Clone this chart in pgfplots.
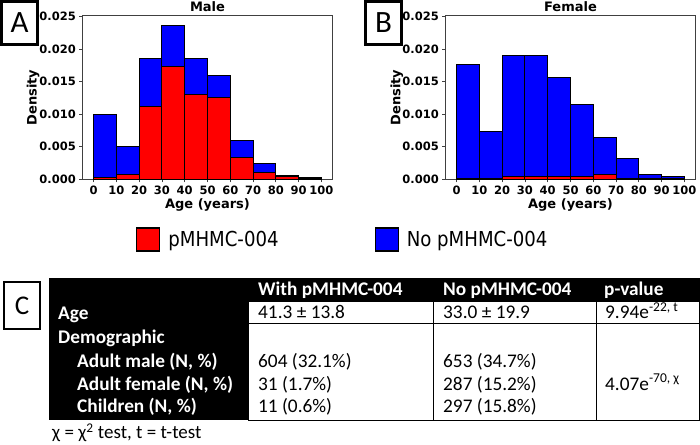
\documentclass[border=0pt]{standalone}
\usepackage{pgfplots}
\pgfplotsset{compat=1.18}
\usepackage{fontspec}
\setmainfont{DejaVu Sans}
\newfontfamily\calfont{Carlito}
\newfontfamily\legfont{DejaVu Sans}[FakeStretch=0.88]

\pgfplotstableread{
x blue red
0 0.0100 0.0002
10 0.0050 0.0007
20 0.0186 0.0112
30 0.0236 0.0173
40 0.0186 0.0130
50 0.0159 0.0125
60 0.0060 0.0033
70 0.0025 0.0011
80 0.0006 0.0004
90 0.0003 0.0001
100 0 0
}\male
\pgfplotstableread{
x blue red
0 0.0176 0.0001
10 0.0074 0.0001
20 0.0190 0.0005
30 0.0190 0.0004
40 0.0157 0.0005
50 0.0115 0.0004
60 0.0065 0.0008
70 0.0032 0.0001
80 0.0007 0.0001
90 0.0004 0.0001
100 0 0
}\female

\begin{document}
\begin{tikzpicture}[x=1pt,y=1pt]
\useasboundingbox (0,0) rectangle (700,444);
\pgfplotsset{
  hist/.style={
    scale only axis, width=250.4pt, height=163.6pt, anchor=south west,
    xmin=-5, xmax=105, ymin=0, ymax=0.02515,
    xtick={0,10,20,30,40,50,60,70,80,90,100},
    ytick={0,0.005,0.01,0.015,0.02,0.025},
    scaled y ticks=false,
    /pgf/number format/assume math mode=true,
    yticklabel={\pgfmathprintnumber[fixed,fixed zerofill,precision=3]{\tick}},
    tick align=outside, tick pos=left, major tick length=3pt,
    axis line style={black!75, line width=0.8pt},
    every tick/.style={black!75, line width=0.8pt},
    tick label style={font=\fontsize{11.5}{11.5}\selectfont\bfseries},
    label style={font=\fontsize{13}{13}\selectfont\bfseries},
    every axis title/.style={font=\fontsize{13}{13}\selectfont\bfseries, anchor=center, at={(0.5,1.053)}},
    ylabel=Density, xlabel={Age (years)},
    xlabel style={at={(axis description cs:0.5,-0.157)}, anchor=center},
    ylabel style={anchor=center},
    bluebar/.style={ybar interval, fill=blue, draw=black, line width=1pt},
    redbar/.style={ybar interval, fill=red, draw=black, line width=1pt},
  }
}
\begin{axis}[hist, at={(82.3pt,264.7pt)}, title=Male,
  ylabel style={at={(axis description cs:-0.197,0.5)}},
  legend style={at={(axis description cs:0.2145,-0.368)}, anchor=west, draw=none, fill=none,
    legend columns=2, inner sep=0pt, nodes={inner sep=0pt},
    font={\legfont\fontsize{20.6}{21}\selectfont},
    /tikz/every odd column/.append style={column sep=8pt},
    /tikz/every even column/.append style={column sep=96pt}},
  legend image code/.code={\draw[#1] (0pt,-11.5pt) rectangle (23pt,11.5pt);}]
\addplot[bluebar, forget plot] table[x=x, y=blue] {\male};
\addplot[redbar, forget plot] table[x=x, y=red] {\male};
\addlegendimage{fill=red, draw=black, line width=1.2pt}
\addlegendentry{pMHMC-004}
\addlegendimage{fill=blue, draw=black, line width=1.2pt}
\addlegendentry{No pMHMC-004}
\end{axis}
\begin{axis}[hist, at={(445.3pt,264.7pt)}, title=Female,
  ylabel style={at={(axis description cs:-0.194,0.5)}}]
\addplot[bluebar] table[x=x, y=blue] {\female};
\addplot[redbar] table[x=x, y=red] {\female};
\end{axis}

% panel letters
\draw[line width=2.7pt] (1.35,444-1.35) rectangle (37.65,444-44.65);
\node[font={\calfont\fontsize{31}{31}\selectfont}] at (19.5,444-23) {A};
\draw[line width=2.7pt] (365.35,444-1.35) rectangle (401.65,444-44.65);
\node[font={\calfont\fontsize{31}{31}\selectfont}] at (383.5,444-23) {B};
\draw[line width=2.4pt] (4.2,444-282.2) rectangle (39.8,444-328.8);
\node[font={\calfont\fontsize{27}{27}\selectfont}] at (22,444-305.5) {C};

% table
\fill[black] (49,444-278) rectangle (700,444-302);
\fill[black] (49,444-302) rectangle (248,444-420);
\draw[line width=1pt] (248,444-302) rectangle (699.5,444-420);
\draw[line width=1pt] (248,444-323.5) -- (699.5,444-323.5);
\draw[line width=1pt] (433,444-302) -- (433,444-420);
\draw[line width=1pt] (596,444-302) -- (596,444-420);
\begin{scope}[every node/.style={anchor=base west, inner sep=0pt}]
\begin{scope}[font={\calfont\bfseries\fontsize{19.3}{19.3}\selectfont}, text=white]
\node at (258,444-296) {With pMHMC-004};
\node at (443,444-296) {No pMHMC-004};
\node at (604,444-296) {p-value};
\node at (58,444-319.3) {Age};
\node at (58,444-344) {Demographic};
\node at (77,444-367.3) {Adult male (N, \%)};
\node at (77,444-390) {Adult female (N, \%)};
\node at (77,444-412.7) {Children (N, \%)};
\end{scope}
\begin{scope}[font={\calfont\fontsize{19.3}{19.3}\selectfont}]
\node at (258,444-319) {41.3 ± 13.8};
\node at (443,444-319) {33.0 ± 19.9};
\node at (605,444-319) {9.94e\textsuperscript{-22, t}};
\node at (258,444-367.3) {604 (32.1\%)};
\node at (258,444-390) {31 (1.7\%)};
\node at (258,444-412.7) {11 (0.6\%)};
\node at (443,444-367.3) {653 (34.7\%)};
\node at (443,444-390) {287 (15.2\%)};
\node at (443,444-412.7) {297 (15.8\%)};
\node at (605,444-390) {4.07e\textsuperscript{-70, χ}};
\end{scope}
\node[font={\calfont\fontsize{19}{19}\selectfont}] at (52,444-438.5) {χ = χ\textsuperscript{2} test, t = t-test};
\end{scope}
\end{tikzpicture}
\end{document}
